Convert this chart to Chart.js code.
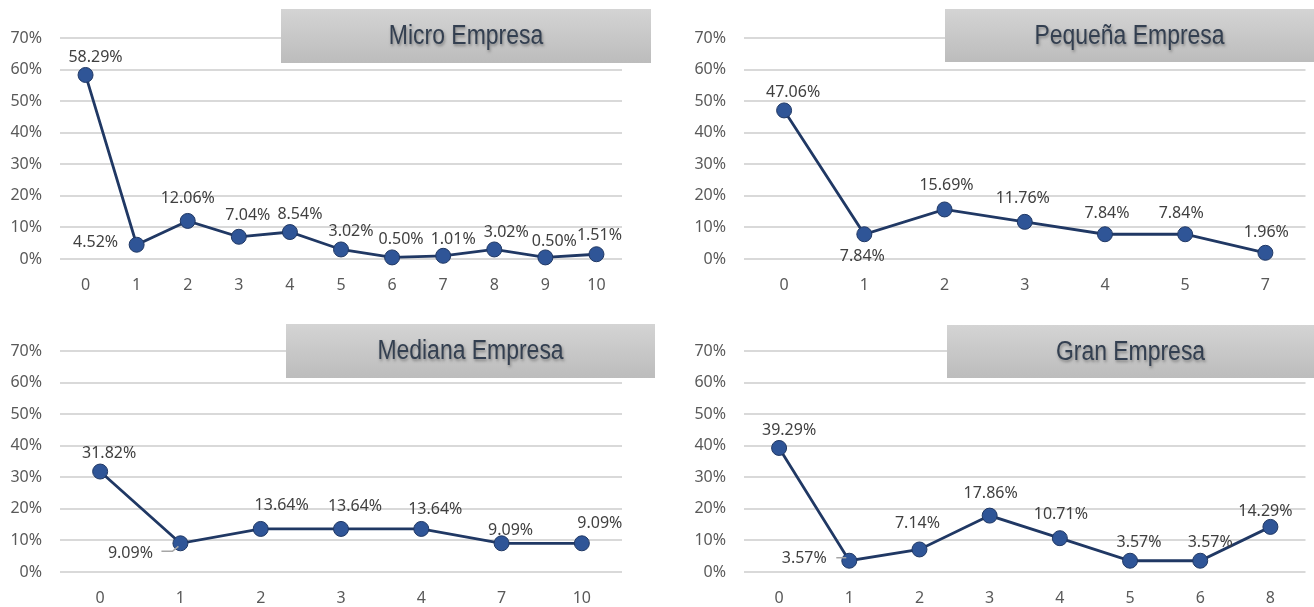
<!DOCTYPE html>
<html>
<head>
<meta charset="utf-8">
<script src="https://cdn.jsdelivr.net/npm/chart.js@4.4.1/dist/chart.umd.min.js"></script>
<style>
  html, body { margin: 0; padding: 0; background: #fff; }
  #wrap { position: relative; width: 1314px; height: 607px; overflow: hidden; }
  canvas { position: absolute; }
</style>
</head>
<body>
<div id="wrap">
  <canvas id="cMicro" width="657" height="305" style="left:0;top:0"></canvas>
  <canvas id="cPequena" width="657" height="305" style="left:657px;top:0"></canvas>
  <canvas id="cMediana" width="657" height="302" style="left:0;top:305px"></canvas>
  <canvas id="cGran" width="657" height="302" style="left:657px;top:305px"></canvas>
</div>
<script>
// datos (porcentajes)
const microCats = ["0", "1", "2", "3", "4", "5", "6", "7", "8", "9", "10"];
const microValues = [58.29, 4.52, 12.06, 7.04, 8.54, 3.02, 0.50, 1.01, 3.02, 0.50, 1.51];

const pequenaCats = ["0", "1", "2", "3", "4", "5", "7"];
const pequenaValues = [47.06, 7.84, 15.69, 11.76, 7.84, 7.84, 1.96];

const medianaCats = ["0", "1", "2", "3", "4", "7", "10"];
const medianaValues = [31.82, 9.09, 13.64, 13.64, 13.64, 9.09, 9.09];

const granCats = ["0", "1", "2", "3", "4", "5", "6", "8"];
const granValues = [39.29, 3.57, 7.14, 17.86, 10.71, 3.57, 3.57, 14.29];

const yMin = 0, yMax = 70, yStep = 10;

// posicion de las etiquetas (centro relativo al punto)
const microLabelPos = [[10, -18], [-41, -2], [0, -22], [9, -21], [10, -18], [10, -18], [9, -18], [10, -16], [12, -17], [9, -16], [3, -19]];
const pequenaLabelPos = [[9, -18], [-2, 22], [2, -24], [-2, -23], [2, -21], [-4, -21], [1, -20]];
const medianaLabelPos = [[9, -18], [-50, 10], [21, -23], [14, -22], [14, -19], [9, -13], [18, -20]];
const granLabelPos = [[10, -18], [-45, -2], [-2, -26], [1, -22], [1, -24], [9, -18], [10, -18], [-5, -15]];

const tickFont = { family: "'Noto Sans', sans-serif", size: 16 };
const tickColor = "#595959";

function makeExtras(title, box, labelPos, leader) {
  return {
    id: "extras",
    afterDatasetsDraw(chart) {
      const ctx = chart.ctx;
      const meta = chart.getDatasetMeta(0);
      const vals = chart.data.datasets[0].data;
      ctx.save();
      if (leader) {
        const pt = meta.data[leader.index];
        ctx.strokeStyle = "#a6a6a6";
        ctx.lineWidth = 1.5;
        ctx.beginPath();
        leader.path.forEach((p, k) => {
          if (k === 0) ctx.moveTo(pt.x + p[0], pt.y + p[1]);
          else ctx.lineTo(pt.x + p[0], pt.y + p[1]);
        });
        ctx.stroke();
      }
      ctx.font = "16px 'Noto Sans', sans-serif";
      ctx.fillStyle = "#404040";
      ctx.textAlign = "center";
      ctx.textBaseline = "middle";
      meta.data.forEach((pt, i) => {
        const off = labelPos[i];
        ctx.fillText(vals[i].toFixed(2) + "%", pt.x + off[0], pt.y + off[1]);
      });
      ctx.restore();
    },
    afterDraw(chart) {
      const ctx = chart.ctx;
      const [x, y, w, h] = box;
      ctx.save();
      const g = ctx.createLinearGradient(0, y, 0, y + h);
      g.addColorStop(0, "#d4d4d4");
      g.addColorStop(1, "#bcbcbc");
      ctx.fillStyle = g;
      ctx.fillRect(x, y, w, h);
      // texto estrecho tipo Arial Narrow
      ctx.translate(x + w / 2, y + h / 2 + 1);
      ctx.scale(0.85, 1);
      ctx.font = "27px 'Liberation Sans', Arial, sans-serif";
      ctx.textAlign = "center";
      ctx.textBaseline = "middle";
      ctx.shadowColor = "rgba(0,0,0,0.35)";
      ctx.shadowBlur = 3;
      ctx.shadowOffsetX = 1;
      ctx.shadowOffsetY = 2;
      ctx.fillStyle = "#333f50";
      ctx.fillText(title, 0, 0);
      ctx.restore();
    }
  };
}

function makeChart(id, cats, values, cfg) {
  new Chart(document.getElementById(id), {
    type: "line",
    data: {
      labels: cats,
      datasets: [{
        data: values,
        borderColor: "#203864",
        borderWidth: 2.8,
        pointRadius: 7.5,
        pointBackgroundColor: "#2f5597",
        pointBorderColor: "#203864",
        pointBorderWidth: 1,
        tension: 0,
        clip: false
      }]
    },
    options: {
      responsive: false,
      animation: false,
      devicePixelRatio: 1,
      layout: { padding: cfg.padding },
      plugins: { legend: { display: false }, tooltip: { enabled: false } },
      scales: {
        x: {
          offset: true,
          grid: { display: false, drawTicks: false, offset: true },
          border: { display: false },
          ticks: { font: tickFont, color: tickColor, padding: 17 },
          afterFit: s => { s.height = cfg.xh; }
        },
        y: {
          min: yMin,
          max: yMax,
          ticks: { stepSize: yStep, callback: v => v + "%", font: tickFont, color: tickColor, padding: 18 },
          grid: { color: "#d9d9d9", lineWidth: 2, drawTicks: false },
          border: { display: false },
          afterFit: s => { s.width = cfg.yw; }
        }
      }
    },
    plugins: [makeExtras(cfg.title, cfg.box, cfg.labelPos, cfg.leader)]
  });
}

makeChart("cMicro", microCats, microValues, {
  title: "Micro Empresa", box: [281, 9, 370, 54], labelPos: microLabelPos,
  padding: { left: 0, top: 38, right: 35, bottom: 0 }, yw: 60, xh: 46
});
makeChart("cPequena", pequenaCats, pequenaValues, {
  title: "Pequeña Empresa", box: [288, 9, 369, 53], labelPos: pequenaLabelPos,
  padding: { left: 0, top: 38, right: 8, bottom: 0 }, yw: 87, xh: 46
});
makeChart("cMediana", medianaCats, medianaValues, {
  title: "Mediana Empresa", box: [286, 19, 369, 54], labelPos: medianaLabelPos,
  leader: { index: 1, path: [[-19, 8], [-8, 8], [-2, 3]] },
  padding: { left: 0, top: 46, right: 35, bottom: 0 }, yw: 60, xh: 35
});
makeChart("cGran", granCats, granValues, {
  title: "Gran Empresa", box: [290, 20, 367, 53], labelPos: granLabelPos,
  leader: { index: 1, path: [[-13, -3], [-3, -3]] },
  padding: { left: 0, top: 46, right: 8, bottom: 0 }, yw: 87, xh: 35
});
</script>
</body>
</html>
